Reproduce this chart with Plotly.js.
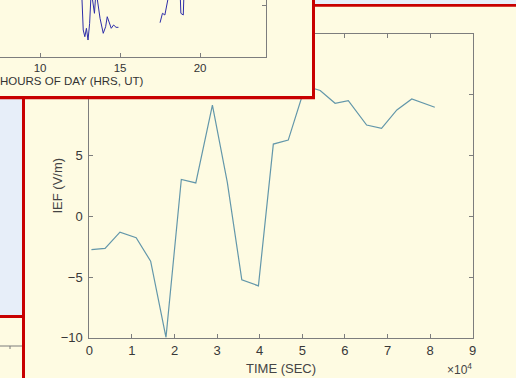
<!DOCTYPE html>
<html>
<head>
<meta charset="utf-8">
<script src="https://cdn.plot.ly/plotly-3.0.1.min.js"></script>
<style>html,body{margin:0;padding:0;background:#FEFBE2;}#plot{width:516px;height:378px;}</style>
</head>
<body>
<div id="plot"></div>
<script>
// ---- Main figure data: IEF vs time ----
const timeSec = [500, 3700, 7200, 11000, 14400, 18000, 21600, 25000, 28900, 32400, 35800, 39700,
                 43200, 46700, 50700, 54200, 57700, 60800, 65100, 68600, 72200, 75700, 81100];
const iefVm   = [-2.75, -2.65, -1.3, -1.76, -3.7, -9.97, 3.03, 2.75, 9.15, 2.8, -5.23, -5.73,
                 5.95, 6.28, 10.73, 10.36, 9.31, 9.53, 7.52, 7.25, 8.76, 9.67, 8.98];
const mainXTickVals = [0, 10000, 20000, 30000, 40000, 50000, 60000, 70000, 80000, 90000];
const mainXTickText = ['0','1','2','3','4','5','6','7','8','9'];
const mainYTickVals = [-10, -5, 0, 5, 10, 15];

// ---- Overlapping window data (hours of day) ----
const hoursUT = [12.6, 12.7, 12.8, 12.9, 13.0, 13.1, 13.2, 13.4, 13.5, 13.75, 13.95, 14.1, 14.2, 14.3, 14.45, 14.6, 14.75, 14.9,
                 null,
                 17.5, 17.65, 17.8, 17.9, 18.1, 18.75, 18.8, 18.95, 19.0];
const winVals = [13, 5.24, 3.92, 5.57, 3.27, 6.55, 13, 8.51, 13, 7.53, 4.59, 5.88, 7.84, 6.86, 5.57, 6.22, 5.76, 5.76,
                 null,
                 6.67, 8.51, 8.18, 9.49, 13, 13, 8.51, 8.18, 13];
const winXTickVals = [5, 10, 15, 20];

// ---- styling ----
const W = 516, H = 378;
const cream = '#FEFBE2', red = '#C80000', lblue = '#E7EEF9', axGray = '#7d7d7d', txt = '#383838';
const X = p => p / W;
const Y = p => 1 - p / H;

const traces = [
  {type:'scatter', mode:'lines', x: timeSec, y: iefVm, xaxis:'x', yaxis:'y',
   line:{color:'#6397AA', width:1.2}, hoverinfo:'skip'},
  {type:'scatter', mode:'lines', x: [], y: [], xaxis:'x2', yaxis:'y2', hoverinfo:'skip'},
  {type:'scatter', mode:'lines', x: hoursUT, y: winVals, xaxis:'x3', yaxis:'y3',
   line:{color:'#2D2DA8', width:1}, connectgaps:false, hoverinfo:'skip'}
];

const fontFam = '"Liberation Sans", Arial, Helvetica, sans-serif';

function paperRect(x0, y0, x1, y1, color) {
  return {type:'rect', xref:'paper', yref:'paper', layer:'below',
          x0:X(x0), x1:X(x1), y0:Y(y1), y1:Y(y0), fillcolor:color, line:{width:0}};
}
function winRect(x0, y0, x1, y1, color) {
  return {type:'rect', xref:'x2', yref:'y2', layer:'below',
          x0:x0, x1:x1, y0:y0, y1:y1, fillcolor:color, line:{width:0}};
}

const shapes = [
  paperRect(0, 0, 516, 4, lblue),
  paperRect(22, 4, 516, 6.7, red),
  paperRect(0, 0, 22, 315, lblue),
  paperRect(0, 315, 22, 318, red),
  paperRect(22, 4, 25, 378, red),
  {type:'line', xref:'paper', yref:'paper', layer:'below', x0:X(0), x1:X(22), y0:Y(346), y1:Y(346), line:{color:axGray, width:1}},
  {type:'line', xref:'paper', yref:'paper', layer:'below', x0:X(10), x1:X(10), y0:Y(346), y1:Y(349), line:{color:axGray, width:1}},
  winRect(-5, -5, 315, 99.3, red),
  winRect(-5, -5, 312, 96, cream)
];

const layout = {
  width: W, height: H,
  margin: {l:0, r:0, t:0, b:0, pad:0},
  paper_bgcolor: cream,
  plot_bgcolor: 'rgba(0,0,0,0)',
  showlegend: false,
  font: {family: fontFam, size: 13, color: txt},
  xaxis: {domain:[X(89.3), X(472.7)], range:[0, 90000], anchor:'y',
          tickvals: mainXTickVals, ticktext: mainXTickText,
          ticks:'inside', ticklen:4, tickcolor:axGray, showline:true, linecolor:axGray, linewidth:1,
          mirror:'ticks', showgrid:false, zeroline:false, tickfont:{size:13, color:txt},
          ticklabelstandoff:1, fixedrange:true},
  yaxis: {domain:[Y(337.7), Y(34.2)], range:[-10, 15], anchor:'x',
          tickvals: mainYTickVals,
          ticks:'inside', ticklen:4, tickcolor:axGray, showline:true, linecolor:axGray, linewidth:1,
          mirror:'ticks', showgrid:false, zeroline:false, tickfont:{size:13, color:txt},
          ticklabelstandoff:3, fixedrange:true},
  xaxis2: {domain:[0, 1], range:[0, 516], anchor:'y2', visible:false, showgrid:false, zeroline:false, fixedrange:true},
  yaxis2: {domain:[0, 1], range:[378, 0], anchor:'x2', visible:false, showgrid:false, zeroline:false, fixedrange:true},
  xaxis3: {domain:[0, X(265.7)], range:[7.5, 24.1], anchor:'y3',
           tickvals: winXTickVals, ticks:'inside', ticklen:4, tickcolor:axGray,
           showline:true, linecolor:axGray, linewidth:1, mirror:false,
           showgrid:false, zeroline:false, tickfont:{size:11.5, color:'#333'}, fixedrange:true},
  yaxis3: {domain:[Y(56.7), 1], range:[0, 11.12], anchor:'x3', side:'right',
           tickvals:[10], ticks:'inside', ticklen:4, tickcolor:axGray,
           showline:true, linecolor:axGray, linewidth:1, mirror:false, showticklabels:false,
           showgrid:false, zeroline:false, fixedrange:true},
  shapes: shapes,
  annotations: [
    {text:'IEF (V/m)', xref:'paper', yref:'paper', x:X(56.5), y:Y(186), textangle:-90,
     xanchor:'center', yanchor:'middle', showarrow:false, font:{size:13, color:'#444'}},
    {text:'TIME (SEC)', xref:'paper', yref:'paper', x:X(281), y:Y(368),
     xanchor:'center', yanchor:'middle', showarrow:false, font:{size:13, color:'#444'}},
    {text:'×10<sup>4</sup>', xref:'paper', yref:'paper', x:X(474), y:Y(369),
     xanchor:'right', yanchor:'middle', showarrow:false, font:{size:12, color:'#444'}},
    {text:'HOURS OF DAY (HRS, UT)', xref:'paper', yref:'paper', x:X(71.5), y:Y(81),
     xanchor:'center', yanchor:'middle', showarrow:false, font:{size:11.5, color:'#333'}}
  ]
};

Plotly.newPlot('plot', traces, layout, {staticPlot:true, displayModeBar:false});
</script>
</body>
</html>
